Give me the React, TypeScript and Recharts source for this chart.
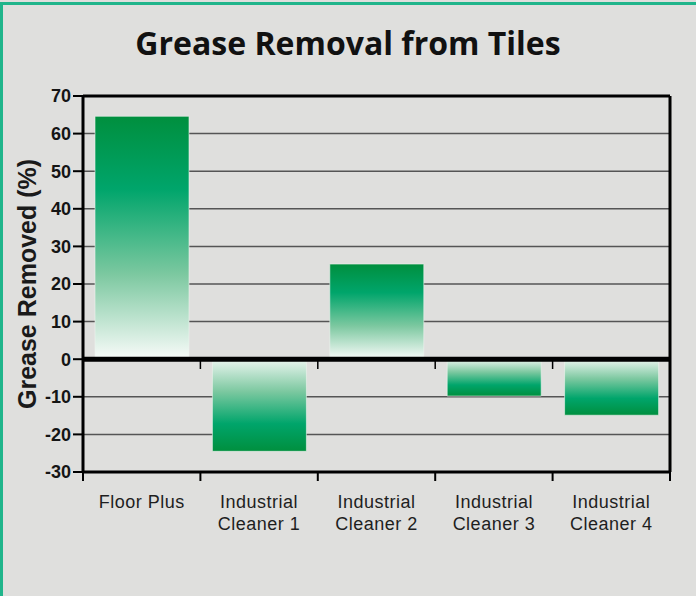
import React from 'react';
import {
  BarChart, Bar, XAxis, YAxis, CartesianGrid, ReferenceLine, Cell,
} from 'recharts';

const categories = [
  'Floor Plus',
  'Industrial\nCleaner 1',
  'Industrial\nCleaner 2',
  'Industrial\nCleaner 3',
  'Industrial\nCleaner 4',
];
const greaseRemoved = [64.6, -24.5, 25.3, -9.8, -14.9];
const yTicks = [-30, -20, -10, 0, 10, 20, 30, 40, 50, 60, 70];
const boundaryTicks = [0, 1, 2, 3, 4, 5];
const zeroLineTicks = [1, 2, 3, 4];

const data = categories.map((name, i) => ({ name, pos: i + 0.5, value: greaseRemoved[i] }));

const PLOT_WIDTH = 696 - 83 - 26;
const HALF_BAND = PLOT_WIDTH / categories.length / 2;

const XLabel = (props: any) => {
  const { x, y, payload } = props;
  const idx = Number(payload.value);
  if (idx >= categories.length) return <g />;
  const cx = x + HALF_BAND;
  const lines = categories[idx].split('\n');
  return (
    <text
      x={cx}
      y={y}
      textAnchor="middle"
      fill="#1e1e1e"
      fontSize={18}
      letterSpacing={0.5}
      fontFamily="'Liberation Sans', Arial, sans-serif"
    >
      {lines.map((l, i) => (
        <tspan key={i} x={cx} dy={i === 0 ? 24.5 : 22.5}>
          {l}
        </tspan>
      ))}
    </text>
  );
};

const YLabel = (props: any) => {
  const { viewBox } = props;
  const cx = viewBox.x + 27;
  const cy = viewBox.y + viewBox.height / 2;
  return (
    <text
      x={cx}
      y={cy}
      transform={`rotate(-90, ${cx}, ${cy})`}
      textAnchor="middle"
      dominantBaseline="central"
      fontSize={25}
      fontWeight="bold"
      fill="#1a1a1a"
      fontFamily="'Liberation Sans', Arial, sans-serif"
    >
      Grease Removed (%)
    </text>
  );
};

export default function App() {
  return (
    <div style={{ position: 'fixed', left: 0, top: 0, width: 696, height: 596, background: '#dfdfdd', overflow: 'hidden' }}>
      <div
        style={{
          position: 'absolute', left: 0, top: 2, width: 800, height: 800,
          borderTop: '3px solid #20b58b', borderLeft: '3px solid #20b58b',
        }}
      />
      <div
        style={{
          position: 'absolute', left: 0, width: 696, top: 21, textAlign: 'center',
          fontFamily: "'Open Sans', sans-serif", fontWeight: 700, fontSize: 32, color: '#111',
          lineHeight: '44px',
        }}
      >
        Grease Removal from Tiles
      </div>
      <div style={{ position: 'absolute', left: 0, top: 0 }}>
        <BarChart
          width={696}
          height={596}
          data={data}
          margin={{ top: 96, right: 26, left: 0, bottom: 64 }}
        >
          <defs>
            <linearGradient id="gPos" x1="0" y1="0" x2="0" y2="1">
              <stop offset="0" stopColor="#008f3e" />
              <stop offset="0.3" stopColor="#00a56b" />
              <stop offset="0.65" stopColor="#7cc8a0" />
              <stop offset="1" stopColor="#f8fbf9" />
            </linearGradient>
            <linearGradient id="gNeg" x1="0" y1="1" x2="0" y2="0">
              <stop offset="0" stopColor="#008f3e" />
              <stop offset="0.3" stopColor="#00a56b" />
              <stop offset="0.65" stopColor="#7cc8a0" />
              <stop offset="1" stopColor="#eaf5ef" />
            </linearGradient>
          </defs>
          <CartesianGrid vertical={false} stroke="#555" strokeWidth={1.5} />
          <XAxis
            type="number"
            dataKey="pos"
            domain={[0, 5]}
            ticks={boundaryTicks}
            interval={0}
            height={60}
            axisLine={false}
            tickLine={{ stroke: '#000', strokeWidth: 2 }}
            tickSize={9}
            tickMargin={2}
            tick={<XLabel />}
          />
          <YAxis
            width={83}
            domain={[-30, 70]}
            ticks={yTicks}
            interval={0}
            axisLine={{ stroke: '#000', strokeWidth: 3 }}
            tickLine={{ stroke: '#000', strokeWidth: 2 }}
            tickSize={10}
            tickMargin={2}
            tick={{ fontSize: 18, fontWeight: 'bold', fill: '#151515', fontFamily: "'Liberation Sans', Arial, sans-serif" }}
            label={<YLabel />}
          />
          <Bar dataKey="value" barSize={94} isAnimationActive={false}>
            {data.map((d, i) => (
              <Cell key={i} fill={d.value >= 0 ? 'url(#gPos)' : 'url(#gNeg)'} stroke="#eef3ef" strokeOpacity={0.6} strokeWidth={1} />
            ))}
          </Bar>
          <ReferenceLine y={70} stroke="#000" strokeWidth={3} />
          <ReferenceLine y={-30} stroke="#000" strokeWidth={3} />
          <ReferenceLine x={5} stroke="#000" strokeWidth={3} />
          <ReferenceLine y={0} stroke="#000" strokeWidth={5} />
          {zeroLineTicks.map((t) => (
            <ReferenceLine
              key={t}
              segment={[{ x: t, y: 0 }, { x: t, y: -2.6 }]}
              stroke="#000"
              strokeWidth={1.5}
            />
          ))}
        </BarChart>
      </div>
    </div>
  );
}
